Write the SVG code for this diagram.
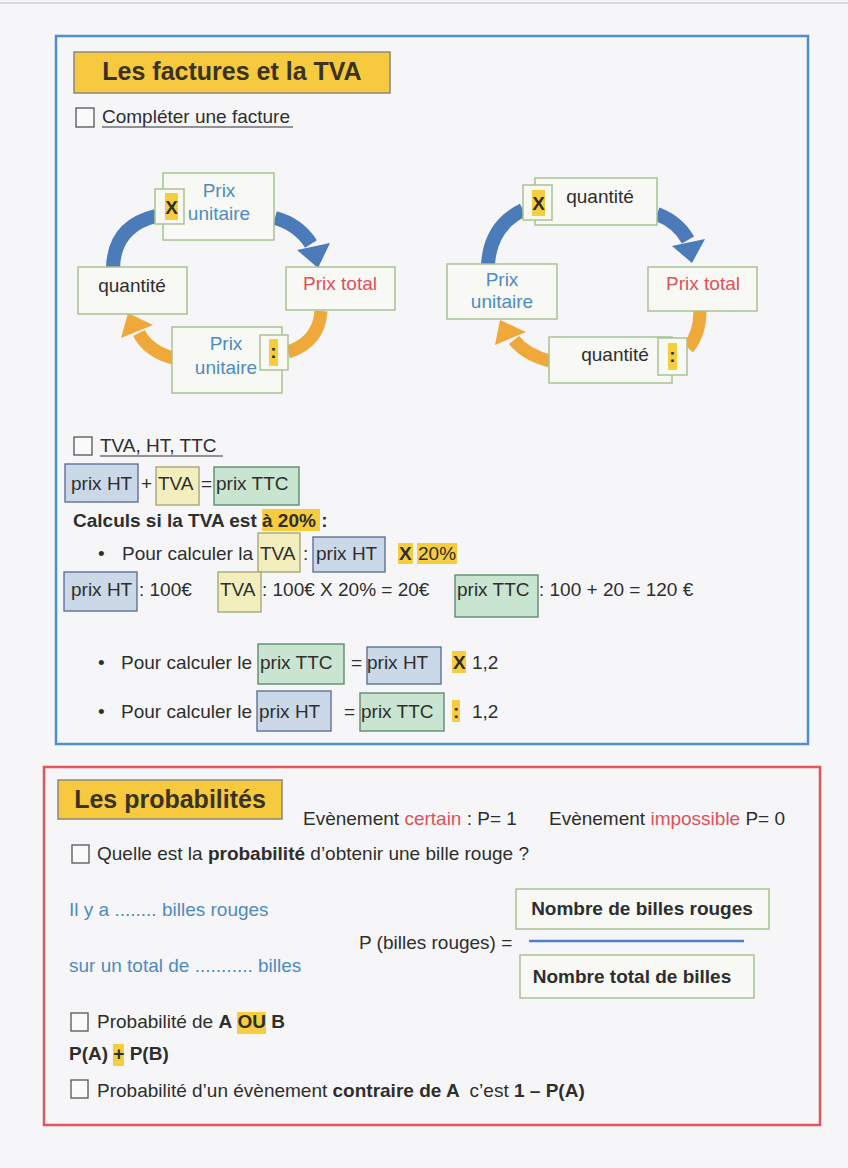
<svg xmlns="http://www.w3.org/2000/svg" width="848" height="1168" viewBox="0 0 848 1168">
<style>
text{font-family:"Liberation Sans",Arial,sans-serif;fill:#2e2e2e;font-size:19px}
.b{font-weight:bold}
.title{font-weight:bold;font-size:25px;fill:#3a3322}
.blue{fill:#4f8ac2}
.red{fill:#e0505a}
.chk{fill:#fafafa;stroke:#555;stroke-width:1.3}
.ttl{fill:#f6c93e;stroke:#8a8678;stroke-width:1.5}
.cyc{fill:#f8f9f4;stroke:#a9c293;stroke-width:1.5}
.hl{fill:#f6cd3c}
.bht{fill:#cbd8e8;stroke:#5d7298;stroke-width:1.4}
.btva{fill:#f2eebd;stroke:#a7a77a;stroke-width:1.4}
.bttc{fill:#c9e4d1;stroke:#5e8c6b;stroke-width:1.4}
.arB{fill:none;stroke:#4b7bb9;stroke-width:14}
.arO{fill:none;stroke:#efa83a;stroke-width:13}
.hB{fill:#4b7bb9}
.hO{fill:#efa83a}
</style>
<rect x="0" y="0" width="848" height="1168" fill="#f6f6f8"/>
<line x1="0" y1="3" x2="848" y2="3" stroke="#cfcfd2" stroke-width="1.5"/>

<g id="frame-tva">
<rect x="56" y="36" width="752" height="708" fill="none" stroke="#4f8ed0" stroke-width="2.5"/>
<rect class="ttl" x="74" y="52" width="316" height="41"/>
<text class="title" x="232" y="80" text-anchor="middle">Les factures et la TVA</text>
<rect class="chk" x="76" y="108" width="18" height="19"/>
<text x="102" y="123">Compléter une facture</text>
<line x1="102" y1="127" x2="293" y2="127" stroke="#2e2e2e" stroke-width="1.2"/>
</g>

<g id="connectors">
<path class="arB" d="M113 268 Q114 226 156 216"/>
<path class="arB" d="M275 218 Q298 224 311 244"/>
<polygon class="hB" points="297,250 330,243 318,268"/>
<path class="arO" d="M321 311 Q319 342 288 352"/>
<path class="arO" d="M173 358 Q148 351 139 333"/>
<polygon class="hO" points="121,338 153,325 128,313"/>

<path class="arB" d="M488 265 Q490 226 523 210"/>
<path class="arB" d="M657 214 Q678 222 688 240"/>
<polygon class="hB" points="672,246 705,239 692,263"/>
<path class="arO" d="M700 311 Q700 334 688 348"/>
<path class="arO" d="M550 361 Q526 355 514 340"/>
<polygon class="hO" points="495,345 526,332 500,320"/>
</g>

<g id="c1-prix-unitaire">
<rect class="cyc" x="163" y="173" width="111" height="67"/>
<rect class="cyc" x="155" y="189" width="29" height="35"/>
<rect class="hl" x="165" y="193" width="13" height="27"/>
<text class="b" x="171.5" y="214" text-anchor="middle" font-size="18">X</text>
<text class="blue" x="219" y="197" text-anchor="middle" font-size="17">Prix</text>
<text class="blue" x="219" y="220" text-anchor="middle" font-size="17">unitaire</text>
</g>
<g id="c1-quantite">
<rect class="cyc" x="78" y="267" width="109" height="47"/>
<text x="132" y="292" text-anchor="middle" font-size="17">quantité</text>
</g>
<g id="c1-prix-total">
<rect class="cyc" x="286" y="267" width="109" height="43"/>
<text class="red" x="340" y="290" text-anchor="middle" font-size="17">Prix total</text>
</g>
<g id="c1-prix-unitaire-bas">
<rect class="cyc" x="172" y="327" width="110" height="66"/>
<rect class="cyc" x="260" y="335" width="28" height="35"/>
<rect class="hl" x="269" y="339" width="9" height="27"/>
<text class="b" x="273.5" y="358" text-anchor="middle" font-size="18" fill="#c04a20">:</text>
<text class="blue" x="226" y="350" text-anchor="middle" font-size="17">Prix</text>
<text class="blue" x="226" y="374" text-anchor="middle" font-size="17">unitaire</text>
</g>

<g id="c2-quantite">
<rect class="cyc" x="535" y="178" width="122" height="47"/>
<rect class="cyc" x="523" y="185" width="29" height="35"/>
<rect class="hl" x="532" y="190" width="13" height="26"/>
<text class="b" x="538.5" y="210" text-anchor="middle" font-size="18">X</text>
<text x="600" y="203" text-anchor="middle" font-size="17">quantité</text>
</g>
<g id="c2-prix-unitaire">
<rect class="cyc" x="447" y="264" width="110" height="55"/>
<text class="blue" x="502" y="286" text-anchor="middle" font-size="17">Prix</text>
<text class="blue" x="502" y="308" text-anchor="middle" font-size="17">unitaire</text>
</g>
<g id="c2-prix-total">
<rect class="cyc" x="648" y="267" width="109" height="44"/>
<text class="red" x="703" y="290" text-anchor="middle" font-size="17">Prix total</text>
</g>
<g id="c2-quantite-bas">
<rect class="cyc" x="549" y="337" width="123" height="46"/>
<rect class="cyc" x="658" y="338" width="29" height="37"/>
<rect class="hl" x="668" y="343" width="9" height="27"/>
<text class="b" x="672.5" y="362" text-anchor="middle" font-size="18" fill="#c04a20">:</text>
<text x="615" y="361" text-anchor="middle" font-size="17">quantité</text>
</g>

<g id="tva-ht-ttc">
<rect class="chk" x="74" y="437" width="18" height="18"/>
<text x="100" y="452">TVA, HT, TTC</text>
<line x1="100" y1="456" x2="223" y2="456" stroke="#2e2e2e" stroke-width="1.2"/>
<rect class="bht" x="65" y="464" width="73" height="38"/>
<text x="71" y="490">prix HT</text>
<text x="141" y="490">+</text>
<rect class="btva" x="156" y="467" width="43" height="38"/>
<text x="158" y="490" fill="#8a8a3a">TVA</text>
<text x="201" y="490">=</text>
<rect class="bttc" x="214" y="467" width="85" height="38"/>
<text x="216" y="490">prix TTC</text>

<rect class="hl" x="262" y="509" width="58" height="22"/>
<text class="b" x="73" y="527">Calculs si la TVA est à 20% :</text>

<text x="98" y="560">•</text>
<text x="122" y="560">Pour calculer la</text>
<rect class="btva" x="258" y="533" width="42" height="39"/>
<text x="260" y="560" fill="#8a8a3a">TVA</text>
<text x="303" y="560">:</text>
<rect class="bht" x="313" y="537" width="72" height="35"/>
<text x="316" y="560">prix HT</text>
<rect class="hl" x="398" y="543" width="15" height="21"/>
<rect class="hl" x="417" y="543" width="40" height="21"/>
<text class="b" x="399" y="560">X</text>
<text x="418" y="560">20%</text>

<rect class="bht" x="64" y="572" width="73" height="39"/>
<text x="71" y="596">prix HT</text>
<text x="139" y="596">: 100€</text>
<rect class="btva" x="218" y="572" width="43" height="40"/>
<text x="220" y="596" fill="#8a8a3a">TVA</text>
<text x="262" y="596">: 100€ X 20% = 20€</text>
<rect class="bttc" x="455" y="575" width="83" height="42"/>
<text x="457" y="596">prix TTC</text>
<text x="539" y="596">: 100 + 20 = 120 €</text>

<text x="98" y="669">•</text>
<text x="121" y="669">Pour calculer le</text>
<rect class="bttc" x="258" y="644" width="86" height="40"/>
<text x="260" y="669">prix TTC</text>
<text x="351" y="669">=</text>
<rect class="bht" x="367" y="647" width="74" height="37"/>
<text x="367" y="669">prix HT</text>
<rect class="hl" x="452" y="651" width="14" height="22"/>
<text class="b" x="453" y="669">X</text>
<text x="472" y="669">1,2</text>

<text x="98" y="718">•</text>
<text x="121" y="718">Pour calculer le</text>
<rect class="bht" x="257" y="691" width="74" height="40"/>
<text x="259" y="718">prix HT</text>
<text x="344" y="718">=</text>
<rect class="bttc" x="360" y="693" width="84" height="38"/>
<text x="361" y="718">prix TTC</text>
<rect class="hl" x="452" y="700" width="8" height="22"/>
<text class="b" x="453" y="718" fill="#c04a20">:</text>
<text x="472" y="718">1,2</text>
</g>

<g id="frame-proba">
<rect x="44" y="767" width="776" height="358" fill="none" stroke="#e3545c" stroke-width="2.5"/>
<rect class="ttl" x="58" y="780" width="224" height="39"/>
<text class="title" x="170" y="808" text-anchor="middle">Les probabilités</text>
<text x="303" y="825">Evènement <tspan class="red">certain</tspan> : P= 1</text>
<text x="549" y="825">Evènement <tspan class="red">impossible</tspan> P= 0</text>
<rect class="chk" x="72" y="845" width="17" height="18"/>
<text x="97" y="860">Quelle est la <tspan class="b">probabilité</tspan> d’obtenir une bille rouge ?</text>
</g>

<g id="proba-formule">
<text class="blue" x="69" y="916">Il y a ........ billes rouges</text>
<text class="blue" x="69" y="972">sur un total de ........... billes</text>
<text x="359" y="949">P (billes rouges) =</text>
<rect class="cyc" x="516" y="889" width="253" height="40"/>
<text class="b" x="642" y="915" text-anchor="middle">Nombre de billes rouges</text>
<line x1="529" y1="941" x2="744" y2="941" stroke="#4f7fc8" stroke-width="2.5"/>
<rect class="cyc" x="520" y="955" width="234" height="43"/>
<text class="b" x="632" y="983" text-anchor="middle">Nombre total de billes</text>
</g>

<g id="proba-ou">
<rect class="chk" x="71" y="1013" width="17" height="18"/>
<rect class="hl" x="237" y="1012" width="29" height="22"/>
<text x="97" y="1028">Probabilité de <tspan class="b">A</tspan> <tspan class="b">OU</tspan> <tspan class="b">B</tspan></text>
<rect class="hl" x="113" y="1044" width="11" height="22"/>
<text class="b" x="69" y="1060">P(A) + P(B)</text>
</g>

<g id="proba-contraire">
<rect class="chk" x="71" y="1080" width="17" height="18"/>
<text x="97" y="1097">Probabilité d’un évènement <tspan class="b">contraire de A</tspan><tspan dx="10">c’est </tspan><tspan class="b">1 – P(A)</tspan></text>
</g>
</svg>
